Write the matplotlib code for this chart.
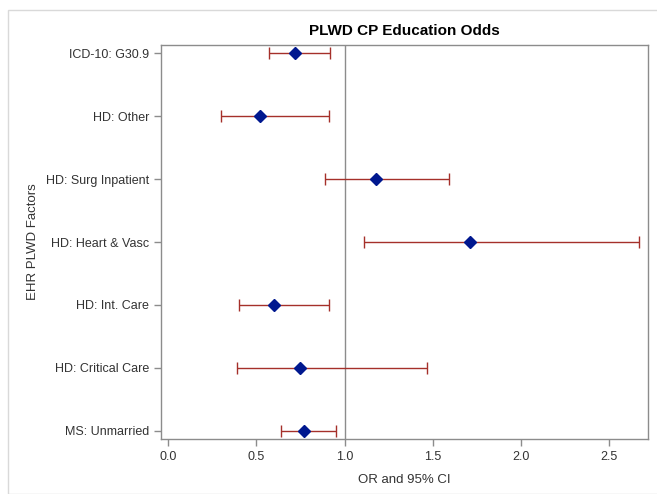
import matplotlib
matplotlib.use("Agg")
from matplotlib import pyplot as plt
from matplotlib.patches import Rectangle
import numpy as np

plt.rcParams["font.family"] = ["Liberation Sans", "DejaVu Sans"]

factors = ["ICD-10: G30.9", "HD: Other", "HD: Surg Inpatient", "HD: Heart & Vasc",
           "HD: Int. Care", "HD: Critical Care", "MS: Unmarried"]
odds = [0.72, 0.52, 1.18, 1.71, 0.60, 0.75, 0.77]
lower = [0.57, 0.30, 0.89, 1.11, 0.40, 0.39, 0.64]
upper = [0.92, 0.91, 1.59, 2.67, 0.91, 1.47, 0.95]
xticks = [0.0, 0.5, 1.0, 1.5, 2.0, 2.5]

AXIS_GRAY = "#8c8c8c"
CI_RED = "#a5302a"
POINT_BLUE = "#00188f"

fig = plt.figure(figsize=(6.57, 4.94), dpi=100)
ax = fig.add_axes([161 / 657, 1 - 439 / 494, (648 - 161) / 657, (439 - 45) / 494])

# light frame around the whole graph
fig.patches.append(Rectangle((8 / 657, 0), 1, 1 - 10 / 494, transform=fig.transFigure,
                             fill=False, edgecolor="#d9d9d9", linewidth=1.0))

n = len(factors)
y = np.arange(n)[::-1]
odds = np.array(odds)
err = [odds - np.array(lower), np.array(upper) - odds]

ax.axvline(1.0, color=AXIS_GRAY, linewidth=1.0, zorder=1)
ax.errorbar(odds, y, xerr=err, fmt="none", ecolor=CI_RED, elinewidth=1.0,
            capsize=4.5, capthick=1.0, zorder=2)
ax.plot(odds, y, "D", color=POINT_BLUE, markersize=6.5, zorder=3)

ax.set_xlim(-0.04, 2.72)
ax.set_ylim(-0.13, n - 1 + 0.13)
ax.set_xticks(xticks)
ax.set_xticklabels([f"{t:.1f}" for t in xticks])
ax.set_yticks(y)
ax.set_yticklabels(factors)

for s in ax.spines.values():
    s.set_color(AXIS_GRAY)
    s.set_linewidth(1.0)
ax.tick_params(axis="both", colors=AXIS_GRAY, labelcolor="#333333", labelsize=9,
               length=5, width=1.0)

ax.set_xlabel("OR and 95% CI", fontsize=9.5, color="#333333", labelpad=8)
ax.set_ylabel("EHR PLWD Factors", fontsize=9.5, color="#333333", labelpad=5)
ax.set_title("PLWD CP Education Odds", fontsize=11, fontweight="bold", color="#000000", pad=7)

fig.savefig("out.png", dpi=100)
